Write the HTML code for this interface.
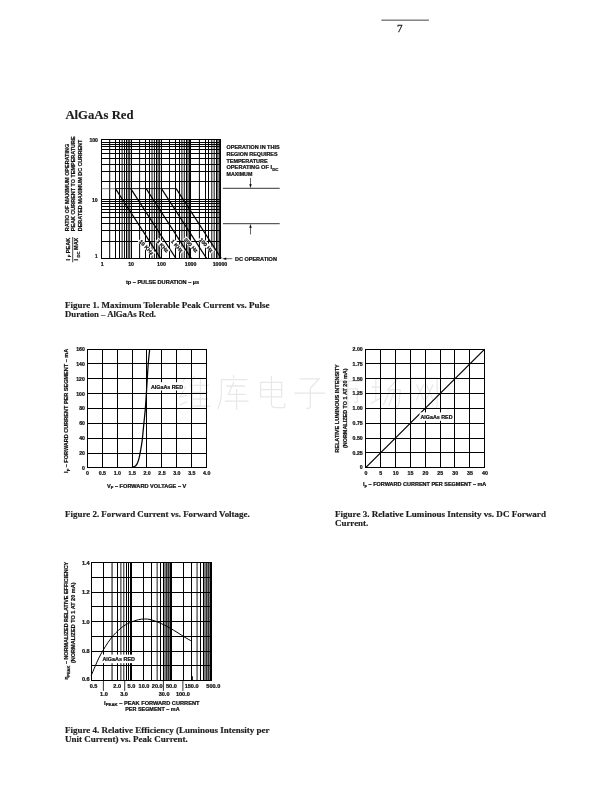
<!DOCTYPE html>
<html><head><meta charset="utf-8"><title>AlGaAs Red</title>
<style>
html,body{margin:0;padding:0;background:#fff;}
body{width:612px;height:792px;position:relative;overflow:hidden;}
svg{position:absolute;left:0;top:0;display:block;will-change:transform;filter:grayscale(1);}
.s{font-family:"Liberation Sans",sans-serif;font-weight:bold;fill:#111;stroke:#111;stroke-width:0.22px;}
.c{font-family:"Liberation Serif",serif;font-weight:bold;fill:#1c1c1c;stroke:#1c1c1c;stroke-width:0.15px;}
.n{font-family:"Liberation Serif",serif;fill:#222;stroke:#222;stroke-width:0.3px;}
</style></head><body>
<svg width="612" height="792" viewBox="0 0 612 792">
<line x1="381.4" y1="20.15" x2="428.9" y2="20.15" stroke="#222" stroke-width="0.85"/>
<path transform="translate(178 374.5) scale(0.34 0.36)" d="M20 10 L8 35 L22 35 L6 62 L26 58 M5 85 L28 75 M48 5 L36 35 M42 25 L42 95 M42 30 L92 30 M66 10 L66 88 M42 50 L88 50 M42 68 L88 68 M42 88 L95 88" fill="none" stroke="#e8e8e8" stroke-width="3.6"/>
<path transform="translate(216.2 374.5) scale(0.34 0.36)" d="M50 2 L52 10 M15 14 L92 14 M15 14 L15 55 Q14 80 4 96 M30 32 L85 32 M52 20 L36 55 L86 55 M25 74 L95 74 M60 40 L60 98" fill="none" stroke="#e8e8e8" stroke-width="3.6"/>
<path transform="translate(254.4 374.5) scale(0.34 0.36)" d="M18 22 L80 22 L80 62 L18 62 Z M18 42 L80 42 M50 4 L50 82 Q50 92 62 92 L88 92 L90 80" fill="none" stroke="#e8e8e8" stroke-width="3.6"/>
<path transform="translate(292.6 374.5) scale(0.34 0.36)" d="M20 12 L78 12 L52 38 M52 38 L52 88 Q52 96 40 94 M5 52 L95 52" fill="none" stroke="#e8e8e8" stroke-width="3.6"/>
<path transform="translate(330.8 374.5) scale(0.34 0.36)" d="M50 2 L50 12 M8 18 L92 18 M22 40 L22 80 M22 40 L78 40 L78 75 L70 78 M50 18 L50 98" fill="none" stroke="#e8e8e8" stroke-width="3.6"/>
<path transform="translate(369 374.5) scale(0.34 0.36)" d="M8 35 L32 35 M20 12 L20 72 M5 80 L34 66 M42 12 L85 12 L55 42 L92 42 L88 80 Q86 92 76 90 M62 42 L42 85 M76 42 L58 88" fill="none" stroke="#e8e8e8" stroke-width="3.6"/>
<path transform="translate(407.2 374.5) scale(0.34 0.36)" d="M12 10 L12 96 M12 10 L88 10 L88 88 Q88 96 78 94 M28 28 L48 70 M48 28 L26 72 M56 28 L76 70 M76 28 L54 72" fill="none" stroke="#e8e8e8" stroke-width="3.6"/>
<path d="M101.5 139V259" stroke="#000" stroke-width="1.0"/>
<line x1="109.7" y1="139.6" x2="109.7" y2="258.4" stroke="#000" stroke-width="1.0" />
<path d="M115.5 139V259" stroke="#000" stroke-width="1.0"/>
<path d="M119.5 139V259" stroke="#000" stroke-width="1.0"/>
<line x1="122.1" y1="139.6" x2="122.1" y2="258.4" stroke="#000" stroke-width="0.95" />
<line x1="124.47" y1="139.6" x2="124.47" y2="258.4" stroke="#000" stroke-width="0.95" />
<path d="M126.5 139V259" stroke="#000" stroke-width="1.0"/>
<line x1="128.2" y1="139.6" x2="128.2" y2="258.4" stroke="#000" stroke-width="0.95" />
<line x1="129.73" y1="139.6" x2="129.73" y2="258.4" stroke="#000" stroke-width="0.95" />
<path d="M131.5 139V259" stroke="#000" stroke-width="1.0"/>
<line x1="139.6" y1="139.6" x2="139.6" y2="258.4" stroke="#000" stroke-width="1.0" />
<path d="M145.5 139V259" stroke="#000" stroke-width="1.0"/>
<path d="M149.5 139V259" stroke="#000" stroke-width="1.0"/>
<line x1="152" y1="139.6" x2="152" y2="258.4" stroke="#000" stroke-width="0.95" />
<line x1="154.37" y1="139.6" x2="154.37" y2="258.4" stroke="#000" stroke-width="0.95" />
<path d="M156.5 139V259" stroke="#000" stroke-width="1.0"/>
<line x1="158.1" y1="139.6" x2="158.1" y2="258.4" stroke="#000" stroke-width="0.95" />
<line x1="159.63" y1="139.6" x2="159.63" y2="258.4" stroke="#000" stroke-width="0.95" />
<path d="M161.5 139V259" stroke="#000" stroke-width="1.0"/>
<line x1="169.5" y1="139.6" x2="169.5" y2="258.4" stroke="#000" stroke-width="1.0" />
<path d="M175.5 139V259" stroke="#000" stroke-width="1.0"/>
<path d="M179.5 139V259" stroke="#000" stroke-width="1.0"/>
<line x1="181.9" y1="139.6" x2="181.9" y2="258.4" stroke="#000" stroke-width="0.95" />
<line x1="184.27" y1="139.6" x2="184.27" y2="258.4" stroke="#000" stroke-width="0.95" />
<path d="M186.5 139V259" stroke="#000" stroke-width="1.0"/>
<line x1="188" y1="139.6" x2="188" y2="258.4" stroke="#000" stroke-width="0.95" />
<line x1="189.53" y1="139.6" x2="189.53" y2="258.4" stroke="#000" stroke-width="0.95" />
<path d="M190.5 139V259" stroke="#000" stroke-width="1.0"/>
<line x1="199.4" y1="139.6" x2="199.4" y2="258.4" stroke="#000" stroke-width="1.0" />
<path d="M205.5 139V259" stroke="#000" stroke-width="1.0"/>
<path d="M208.5 139V259" stroke="#000" stroke-width="1.0"/>
<line x1="211.8" y1="139.6" x2="211.8" y2="258.4" stroke="#000" stroke-width="0.95" />
<line x1="214.17" y1="139.6" x2="214.17" y2="258.4" stroke="#000" stroke-width="0.95" />
<path d="M216.5 139V259" stroke="#000" stroke-width="1.0"/>
<line x1="217.9" y1="139.6" x2="217.9" y2="258.4" stroke="#000" stroke-width="0.95" />
<line x1="219.43" y1="139.6" x2="219.43" y2="258.4" stroke="#000" stroke-width="0.95" />
<path d="M220.5 139V259" stroke="#000" stroke-width="1.0"/>
<path d="M101 258.5H221" stroke="#000" stroke-width="1.0"/>
<path d="M101 201.5H221" stroke="#000" stroke-width="1.0"/>
<path d="M101 203.5H221" stroke="#000" stroke-width="1.0"/>
<path d="M101 206.5H221" stroke="#000" stroke-width="1.0"/>
<path d="M101 209.5H221" stroke="#000" stroke-width="1.0"/>
<path d="M101 212.5H221" stroke="#000" stroke-width="1.0"/>
<path d="M101 217.5H221" stroke="#000" stroke-width="1.0"/>
<path d="M101 223.5H221" stroke="#000" stroke-width="1.0"/>
<path d="M101 230.5H221" stroke="#000" stroke-width="1.0"/>
<path d="M101 241.5H221" stroke="#000" stroke-width="1.0"/>
<path d="M101 199.5H221" stroke="#000" stroke-width="1.0"/>
<path d="M101 142.5H221" stroke="#000" stroke-width="1.0"/>
<path d="M101 144.5H221" stroke="#000" stroke-width="1.0"/>
<path d="M101 146.5H221" stroke="#000" stroke-width="1.0"/>
<path d="M101 149.5H221" stroke="#000" stroke-width="1.0"/>
<path d="M101 153.5H221" stroke="#000" stroke-width="1.0"/>
<path d="M101 158.5H221" stroke="#000" stroke-width="1.0"/>
<path d="M101 164.5H221" stroke="#000" stroke-width="1.0"/>
<path d="M101 171.5H221" stroke="#000" stroke-width="1.0"/>
<path d="M101 181.5H221" stroke="#000" stroke-width="1.0"/>
<path d="M101 139.5H221" stroke="#000" stroke-width="1.0"/>
<line x1="101.2" y1="188.7" x2="115.3" y2="188.7" stroke="#555" stroke-width="0.7" />
<line x1="115.3" y1="188.6" x2="176" y2="188.6" stroke="#000" stroke-width="0.9" />
<line x1="115.3" y1="188.4" x2="160.6" y2="258.4" stroke="#000" stroke-width="1.2" />
<line x1="130.6" y1="188.4" x2="175.9" y2="258.4" stroke="#000" stroke-width="1.2" />
<line x1="146" y1="188.4" x2="191.3" y2="258.4" stroke="#000" stroke-width="1.2" />
<line x1="161.3" y1="188.4" x2="206.6" y2="258.4" stroke="#000" stroke-width="1.2" />
<line x1="176" y1="188.4" x2="221.3" y2="258.4" stroke="#000" stroke-width="1.2" />
<g transform="rotate(47 146.4 247.2)"><rect x="136.33" y="244.4" width="20.14" height="5.2" fill="#fff"/><text class="s" transform="translate(137.13 249) scale(1.09 1)" font-size="5.1">10 KHz</text></g>
<g transform="rotate(47 162.5 246)"><rect x="153.98" y="243.2" width="17.04" height="5.2" fill="#fff"/><text class="s" transform="translate(154.78 247.8) scale(1.09 1)" font-size="5.1">3 KHz</text></g>
<g transform="rotate(47 177 246)"><rect x="168.48" y="243.2" width="17.04" height="5.2" fill="#fff"/><text class="s" transform="translate(169.28 247.8) scale(1.09 1)" font-size="5.1">1 KHz</text></g>
<g transform="rotate(47 190.9 245.2)"><rect x="181.29" y="242.4" width="19.21" height="5.2" fill="#fff"/><text class="s" transform="translate(182.09 247) scale(1.09 1)" font-size="5.1">300 Hz</text></g>
<g transform="rotate(47 206.2 245.2)"><rect x="196.59" y="242.4" width="19.21" height="5.2" fill="#fff"/><text class="s" transform="translate(197.39 247) scale(1.09 1)" font-size="5.1">100 Hz</text></g>
<g transform="translate(89.39 141.5) scale(1.0000 1)"><text class="s" x="0" font-size="5.1">100</text></g>
<g transform="translate(91.93 201.5) scale(1.0000 1)"><text class="s" x="0" font-size="5.1">10</text></g>
<g transform="translate(95.05 258.1) scale(0.9000 1)"><text class="s" x="0" font-size="5.1">1</text></g>
<g transform="translate(100.74 265.7) scale(1.0300 1)"><text class="s" x="0" font-size="5.1">1</text></g>
<g transform="translate(128.18 265.7) scale(1.0300 1)"><text class="s" x="0" font-size="5.1">10</text></g>
<g transform="translate(157.12 265.7) scale(1.0300 1)"><text class="s" x="0" font-size="5.1">100</text></g>
<g transform="translate(184.76 265.7) scale(1.0300 1)"><text class="s" x="0" font-size="5.1">1000</text></g>
<g transform="translate(212.7 265.7) scale(1.0300 1)"><text class="s" x="0" font-size="5.1">10000</text></g>
<g transform="translate(125.9 283.7) scale(1.0989 1)"><text class="s" x="0" font-size="5.1">tp – PULSE DURATION – µs</text></g>
<g transform="rotate(-90 69.3 231.2) translate(69.3 231.2) scale(0.9943 1)"><text class="s" x="0" font-size="5.5">RATIO OF MAXIMUM OPERATING</text></g>
<g transform="rotate(-90 75.3 231.2) translate(75.3 231.2) scale(0.9901 1)"><text class="s" x="0" font-size="5.5">PEAK CURRENT TO TEMPERATURE</text></g>
<g transform="rotate(-90 82.3 231.2) translate(82.3 231.2) scale(0.9894 1)"><text class="s" x="0" font-size="5.5">DERATED MAXIMUM DC CURRENT</text></g>
<g transform="rotate(-90 69.7 260.4) translate(69.7 260.4) scale(1.0864 1)"><text class="s" x="0" font-size="5.1">I</text><text class="s" x="2.83" y="1.3" font-size="3.9">F</text><text class="s" x="6.63" font-size="5.1">PEAK</text></g>
<g transform="rotate(-90 78.4 260.4) translate(78.4 260.4) scale(1.0652 1)"><text class="s" x="0" font-size="5.1">I</text><text class="s" x="2.83" y="1.3" font-size="3.9">DC</text><text class="s" x="9.88" font-size="5.1">MAX</text></g>
<line x1="72.7" y1="237" x2="72.7" y2="262.3" stroke="#333" stroke-width="0.9" />
<g transform="translate(226.5 149.1) scale(1.0749 1)"><text class="s" x="0" font-size="5.1">OPERATION IN THIS</text></g>
<g transform="translate(226.5 156) scale(1.0607 1)"><text class="s" x="0" font-size="5.1">REGION REQUIRES</text></g>
<g transform="translate(226.5 162.8) scale(1.0718 1)"><text class="s" x="0" font-size="5.1">TEMPERATURE</text></g>
<g transform="translate(226.5 168.9) scale(1.1065 1)"><text class="s" x="0" font-size="5.1">OPERATING OF I</text><text class="s" x="41.27" y="1.7" font-size="3.9">DC</text></g>
<g transform="translate(226.5 175.6) scale(1.0389 1)"><text class="s" x="0" font-size="5.1">MAXIMUM</text></g>
<line x1="222.9" y1="188.3" x2="279.7" y2="188.3" stroke="#000" stroke-width="0.8" />
<line x1="222.9" y1="223.7" x2="279.7" y2="223.7" stroke="#000" stroke-width="0.8" />
<line x1="250.5" y1="178" x2="250.5" y2="186" stroke="#000" stroke-width="0.6" />
<path d="M249.5 184.3 L250.5 187.8 L251.5 184.3 Z" stroke="#000" stroke-width="0.2" fill="#000" stroke-linejoin="round"/>
<line x1="250.5" y1="226" x2="250.5" y2="234.5" stroke="#000" stroke-width="0.6" />
<path d="M249.5 227.7 L250.5 224.2 L251.5 227.7 Z" stroke="#000" stroke-width="0.2" fill="#000" stroke-linejoin="round"/>
<line x1="224" y1="258.7" x2="232.3" y2="258.7" stroke="#000" stroke-width="0.6" />
<path d="M226.2 257.7 L222.6 258.7 L226.2 259.7 Z" stroke="#000" stroke-width="0.2" fill="#000" stroke-linejoin="round"/>
<g transform="translate(234.9 260.8) scale(1.0872 1)"><text class="s" x="0" font-size="5.1">DC OPERATION</text></g>
<path d="M87.5 349V468" stroke="#000" stroke-width="1.0"/>
<path d="M87 349.5H207" stroke="#000" stroke-width="1.0"/>
<path d="M102.5 349V468" stroke="#000" stroke-width="1.0"/>
<path d="M87 363.5H207" stroke="#000" stroke-width="1.0"/>
<path d="M117.5 349V468" stroke="#000" stroke-width="1.0"/>
<path d="M87 378.5H207" stroke="#000" stroke-width="1.0"/>
<path d="M132.5 349V468" stroke="#000" stroke-width="1.0"/>
<path d="M87 393.5H207" stroke="#000" stroke-width="1.0"/>
<path d="M146.5 349V468" stroke="#000" stroke-width="1.0"/>
<path d="M87 408.5H207" stroke="#000" stroke-width="1.0"/>
<path d="M161.5 349V468" stroke="#000" stroke-width="1.0"/>
<path d="M87 423.5H207" stroke="#000" stroke-width="1.0"/>
<path d="M176.5 349V468" stroke="#000" stroke-width="1.0"/>
<path d="M87 438.5H207" stroke="#000" stroke-width="1.0"/>
<path d="M191.5 349V468" stroke="#000" stroke-width="1.0"/>
<path d="M87 453.5H207" stroke="#000" stroke-width="1.0"/>
<path d="M206.5 349V468" stroke="#000" stroke-width="1.0"/>
<path d="M87 467.5H207" stroke="#000" stroke-width="1.0"/>
<g transform="translate(81.96 469.75) scale(1.0000 1)"><text class="s" x="0" font-size="5.1">0</text></g>
<g transform="translate(86.04 474.8) scale(1.0300 1)"><text class="s" x="0" font-size="5.1">0</text></g>
<g transform="translate(79.13 454.91) scale(1.0000 1)"><text class="s" x="0" font-size="5.1">20</text></g>
<g transform="translate(98.75 474.8) scale(1.0300 1)"><text class="s" x="0" font-size="5.1">0.5</text></g>
<g transform="translate(79.13 440.07) scale(1.0000 1)"><text class="s" x="0" font-size="5.1">40</text></g>
<g transform="translate(113.65 474.8) scale(1.0300 1)"><text class="s" x="0" font-size="5.1">1.0</text></g>
<g transform="translate(79.13 425.24) scale(1.0000 1)"><text class="s" x="0" font-size="5.1">60</text></g>
<g transform="translate(128.55 474.8) scale(1.0300 1)"><text class="s" x="0" font-size="5.1">1.5</text></g>
<g transform="translate(79.13 410.4) scale(1.0000 1)"><text class="s" x="0" font-size="5.1">80</text></g>
<g transform="translate(143.45 474.8) scale(1.0300 1)"><text class="s" x="0" font-size="5.1">2.0</text></g>
<g transform="translate(76.29 395.56) scale(1.0000 1)"><text class="s" x="0" font-size="5.1">100</text></g>
<g transform="translate(158.35 474.8) scale(1.0300 1)"><text class="s" x="0" font-size="5.1">2.5</text></g>
<g transform="translate(76.29 380.72) scale(1.0000 1)"><text class="s" x="0" font-size="5.1">120</text></g>
<g transform="translate(173.25 474.8) scale(1.0300 1)"><text class="s" x="0" font-size="5.1">3.0</text></g>
<g transform="translate(76.29 365.89) scale(1.0000 1)"><text class="s" x="0" font-size="5.1">140</text></g>
<g transform="translate(188.15 474.8) scale(1.0300 1)"><text class="s" x="0" font-size="5.1">3.5</text></g>
<g transform="translate(76.29 351.05) scale(1.0000 1)"><text class="s" x="0" font-size="5.1">160</text></g>
<g transform="translate(203.05 474.8) scale(1.0300 1)"><text class="s" x="0" font-size="5.1">4.0</text></g>
<g transform="translate(107 487.5) scale(1.1014 1)"><text class="s" x="0" font-size="5.1">V</text><text class="s" x="3.4" y="1.3" font-size="3.9">F</text><text class="s" x="7.2" font-size="5.1">– FORWARD VOLTAGE – V</text></g>
<g transform="rotate(-90 68.3 472.9) translate(68.3 472.9) scale(1.0864 1)"><text class="s" x="0" font-size="5.1">I</text><text class="s" x="1.42" y="1.3" font-size="3.9">F</text><text class="s" x="5.22" font-size="5.1">– FORWARD CURRENT PER SEGMENT – mA</text></g>
<path d="M131.6 467.6 C132.07 467.43 133.53 467.13 134.4 466.6 C135.27 466.07 136.05 465.7 136.8 464.4 C137.55 463.1 138.28 461.07 138.9 458.8 C139.52 456.53 139.97 453.73 140.5 450.8 C141.03 447.87 141.57 445.48 142.1 441.2 C142.63 436.92 143.17 430.45 143.7 425.1 C144.23 419.75 144.85 414.43 145.3 409.1 C145.75 403.77 145.92 400.58 146.4 393.1 C146.88 385.62 147.65 371.52 148.2 364.2 C148.75 356.88 149.45 351.7 149.7 349.2" stroke="#000" stroke-width="1.25" fill="none" stroke-linejoin="round"/>
<rect x="149.6" y="382.2" width="34.8" height="8.3" fill="#fff"/>
<g transform="translate(150.9 389) scale(1.0520 1)"><text class="s" x="0" font-size="5.1">AlGaAs RED</text></g>
<path d="M365.5 349V468" stroke="#000" stroke-width="1.0"/>
<path d="M365 349.5H485" stroke="#000" stroke-width="1.0"/>
<path d="M380.5 349V468" stroke="#000" stroke-width="1.0"/>
<path d="M365 363.5H485" stroke="#000" stroke-width="1.0"/>
<path d="M395.5 349V468" stroke="#000" stroke-width="1.0"/>
<path d="M365 378.5H485" stroke="#000" stroke-width="1.0"/>
<path d="M410.5 349V468" stroke="#000" stroke-width="1.0"/>
<path d="M365 393.5H485" stroke="#000" stroke-width="1.0"/>
<path d="M425.5 349V468" stroke="#000" stroke-width="1.0"/>
<path d="M365 408.5H485" stroke="#000" stroke-width="1.0"/>
<path d="M440.5 349V468" stroke="#000" stroke-width="1.0"/>
<path d="M365 423.5H485" stroke="#000" stroke-width="1.0"/>
<path d="M454.5 349V468" stroke="#000" stroke-width="1.0"/>
<path d="M365 438.5H485" stroke="#000" stroke-width="1.0"/>
<path d="M469.5 349V468" stroke="#000" stroke-width="1.0"/>
<path d="M365 452.5H485" stroke="#000" stroke-width="1.0"/>
<path d="M484.5 349V468" stroke="#000" stroke-width="1.0"/>
<path d="M365 467.5H485" stroke="#000" stroke-width="1.0"/>
<g transform="translate(359.81 468.63) scale(1.0200 1)"><text class="s" x="0" font-size="5.1">0</text></g>
<g transform="translate(364.44 474.8) scale(1.0300 1)"><text class="s" x="0" font-size="5.1">0</text></g>
<g transform="translate(352.58 454.72) scale(1.0200 1)"><text class="s" x="0" font-size="5.1">0.25</text></g>
<g transform="translate(379.31 474.8) scale(1.0300 1)"><text class="s" x="0" font-size="5.1">5</text></g>
<g transform="translate(352.58 439.9) scale(1.0200 1)"><text class="s" x="0" font-size="5.1">0.50</text></g>
<g transform="translate(392.73 474.8) scale(1.0300 1)"><text class="s" x="0" font-size="5.1">10</text></g>
<g transform="translate(352.58 425.09) scale(1.0200 1)"><text class="s" x="0" font-size="5.1">0.75</text></g>
<g transform="translate(407.6 474.8) scale(1.0300 1)"><text class="s" x="0" font-size="5.1">15</text></g>
<g transform="translate(352.58 410.28) scale(1.0200 1)"><text class="s" x="0" font-size="5.1">1.00</text></g>
<g transform="translate(422.48 474.8) scale(1.0300 1)"><text class="s" x="0" font-size="5.1">20</text></g>
<g transform="translate(352.58 395.47) scale(1.0200 1)"><text class="s" x="0" font-size="5.1">1.25</text></g>
<g transform="translate(437.35 474.8) scale(1.0300 1)"><text class="s" x="0" font-size="5.1">25</text></g>
<g transform="translate(352.58 380.65) scale(1.0200 1)"><text class="s" x="0" font-size="5.1">1.50</text></g>
<g transform="translate(452.23 474.8) scale(1.0300 1)"><text class="s" x="0" font-size="5.1">30</text></g>
<g transform="translate(352.58 365.84) scale(1.0200 1)"><text class="s" x="0" font-size="5.1">1.75</text></g>
<g transform="translate(467.1 474.8) scale(1.0300 1)"><text class="s" x="0" font-size="5.1">35</text></g>
<g transform="translate(352.58 351.03) scale(1.0200 1)"><text class="s" x="0" font-size="5.1">2.00</text></g>
<g transform="translate(481.98 474.8) scale(1.0300 1)"><text class="s" x="0" font-size="5.1">40</text></g>
<g transform="translate(363 486.4) scale(1.0786 1)"><text class="s" x="0" font-size="5.1">I</text><text class="s" x="1.42" y="1.3" font-size="3.9">F</text><text class="s" x="5.22" font-size="5.1">– FORWARD CURRENT PER SEGMENT – mA</text></g>
<g transform="rotate(-90 338.7 408.3) translate(294.3 408.3) scale(1.0483 1)"><text class="s" x="0" font-size="5.3">RELATIVE LUMINOUS INTENSITY</text></g>
<g transform="rotate(-90 346.6 408.2) translate(306.7 408.2) scale(1.0317 1)"><text class="s" x="0" font-size="5.3">(NORMALIZED TO 1 AT 20 mA)</text></g>
<line x1="365.7" y1="467.63" x2="484.7" y2="349.13" stroke="#000" stroke-width="1.25" />
<rect x="419.6" y="412.4" width="34.2" height="8.4" fill="#fff"/>
<g transform="translate(420.4 418.6) scale(1.0520 1)"><text class="s" x="0" font-size="5.1">AlGaAs RED</text></g>
<path d="M91.5 562V681" stroke="#000" stroke-width="1.0"/>
<path d="M103.5 562V681" stroke="#000" stroke-width="1.0"/>
<line x1="112.05" y1="562.7" x2="112.05" y2="680.7" stroke="#000" stroke-width="1.0" />
<path d="M117.5 562V681" stroke="#000" stroke-width="1.0"/>
<line x1="120.9" y1="562.7" x2="120.9" y2="680.7" stroke="#000" stroke-width="0.9" />
<line x1="123.8" y1="562.7" x2="123.8" y2="680.7" stroke="#000" stroke-width="0.9" />
<path d="M126.5 562V681" stroke="#000" stroke-width="1.0"/>
<path d="M128.5 562V681" stroke="#000" stroke-width="1.0"/>
<path d="M130.5 562V681" stroke="#000" stroke-width="1.0"/>
<path d="M131.5 562V681" stroke="#000" stroke-width="1.0"/>
<path d="M143.5 562V681" stroke="#000" stroke-width="1.0"/>
<path d="M151.5 562V681" stroke="#000" stroke-width="1.0"/>
<line x1="157.13" y1="562.7" x2="157.13" y2="680.7" stroke="#000" stroke-width="0.9" />
<path d="M160.5 562V681" stroke="#000" stroke-width="1.0"/>
<path d="M163.5 562V681" stroke="#000" stroke-width="1.0"/>
<rect x="164.13" y="562.7" width="6.3" height="118" fill="#7a7a7a"/>
<path d="M166.5 562V681" stroke="#000" stroke-width="0.6"/>
<path d="M168.5 562V681" stroke="#000" stroke-width="0.6"/>
<path d="M170.5 562V681" stroke="#000" stroke-width="1.0"/>
<path d="M171.5 562V681" stroke="#000" stroke-width="1.0"/>
<path d="M183.5 562V681" stroke="#000" stroke-width="1.0"/>
<path d="M191.5 562V681" stroke="#000" stroke-width="1.0"/>
<line x1="197.07" y1="562.7" x2="197.07" y2="680.7" stroke="#000" stroke-width="0.9" />
<path d="M200.5 562V681" stroke="#000" stroke-width="1.0"/>
<path d="M203.5 562V681" stroke="#000" stroke-width="1.0"/>
<rect x="204.07" y="562.7" width="6.3" height="118" fill="#7a7a7a"/>
<path d="M206.5 562V681" stroke="#000" stroke-width="0.6"/>
<path d="M208.5 562V681" stroke="#000" stroke-width="0.6"/>
<path d="M210.5 562V681" stroke="#000" stroke-width="1.0"/>
<path d="M211.5 562V681" stroke="#000" stroke-width="1.0"/>
<path d="M91 562.5H212" stroke="#000" stroke-width="1.0"/>
<path d="M91 577.5H212" stroke="#000" stroke-width="1.0"/>
<path d="M91 592.5H212" stroke="#000" stroke-width="1.0"/>
<path d="M91 606.5H212" stroke="#000" stroke-width="1.0"/>
<path d="M91 621.5H212" stroke="#000" stroke-width="1.0"/>
<path d="M91 636.5H212" stroke="#000" stroke-width="1.0"/>
<path d="M91 651.5H212" stroke="#000" stroke-width="1.0"/>
<path d="M91 665.5H212" stroke="#000" stroke-width="1.0"/>
<path d="M91 680.5H212" stroke="#000" stroke-width="1.0"/>
<g transform="translate(81.97 681.3) scale(1.0900 1)"><text class="s" x="0" font-size="5.1">0.6</text></g>
<g transform="translate(81.97 653.1) scale(1.0900 1)"><text class="s" x="0" font-size="5.1">0.8</text></g>
<g transform="translate(81.97 623.6) scale(1.0900 1)"><text class="s" x="0" font-size="5.1">1.0</text></g>
<g transform="translate(81.97 594.1) scale(1.0900 1)"><text class="s" x="0" font-size="5.1">1.2</text></g>
<g transform="translate(81.97 564.6) scale(1.0900 1)"><text class="s" x="0" font-size="5.1">1.4</text></g>
<g transform="translate(89.74 688.1) scale(1.0900 1)"><text class="s" x="0" font-size="5.1">0.5</text></g>
<g transform="translate(113.34 688.1) scale(1.0900 1)"><text class="s" x="0" font-size="5.1">2.0</text></g>
<g transform="translate(127.54 688.1) scale(1.0900 1)"><text class="s" x="0" font-size="5.1">5.0</text></g>
<g transform="translate(138.59 688.1) scale(1.0900 1)"><text class="s" x="0" font-size="5.1">10.0</text></g>
<g transform="translate(151.79 688.1) scale(1.0900 1)"><text class="s" x="0" font-size="5.1">20.0</text></g>
<g transform="translate(165.99 688.1) scale(1.0900 1)"><text class="s" x="0" font-size="5.1">50.0</text></g>
<g transform="translate(184.64 688.1) scale(1.0900 1)"><text class="s" x="0" font-size="5.1">150.0</text></g>
<g transform="translate(206.34 688.1) scale(1.0900 1)"><text class="s" x="0" font-size="5.1">500.0</text></g>
<g transform="translate(100.04 695.9) scale(1.0900 1)"><text class="s" x="0" font-size="5.1">1.0</text></g>
<g transform="translate(120.14 695.9) scale(1.0900 1)"><text class="s" x="0" font-size="5.1">3.0</text></g>
<g transform="translate(158.69 695.9) scale(1.0900 1)"><text class="s" x="0" font-size="5.1">30.0</text></g>
<g transform="translate(175.94 695.9) scale(1.0900 1)"><text class="s" x="0" font-size="5.1">100.0</text></g>
<line x1="103.4" y1="680.7" x2="103.4" y2="690.9" stroke="#000" stroke-width="0.8" />
<line x1="124.7" y1="680.7" x2="124.7" y2="690.9" stroke="#000" stroke-width="0.8" />
<line x1="163.4" y1="680.7" x2="163.4" y2="690.9" stroke="#000" stroke-width="0.8" />
<line x1="182.9" y1="680.7" x2="182.9" y2="690.9" stroke="#000" stroke-width="0.8" />
<line x1="192.3" y1="676.3" x2="192.3" y2="680.7" stroke="#000" stroke-width="1.1" />
<g transform="translate(104.1 705.1) scale(1.1090 1)"><text class="s" x="0" font-size="5.1">I</text><text class="s" x="1.42" y="1.3" font-size="3.9">PEAK</text><text class="s" x="13.67" font-size="5.1">– PEAK FORWARD CURRENT</text></g>
<g transform="translate(125.2 710.9) scale(1.0684 1)"><text class="s" x="0" font-size="5.1">PER SEGMENT – mA</text></g>
<g transform="rotate(-90 68.4 679.6) translate(68.4 679.6) scale(1.0240 1)"><text class="s" x="0" font-size="4.6">η</text><text class="s" x="2.81" y="1.2" font-size="3.9">PEAK</text><text class="s" x="15.12" font-size="5.3">– NORMALIZED RELATIVE EFFICIENCY</text></g>
<g transform="rotate(-90 74.8 622.7) translate(34.5 622.7) scale(1.0421 1)"><text class="s" x="0" font-size="5.3">(NORMALIZED TO 1 AT 20 mA)</text></g>
<path d="M91.2 675.5 C91.87 673.95 93.93 669.1 95.2 666.2 C96.47 663.3 97.45 660.8 98.8 658.1 C100.15 655.4 101.8 652.55 103.3 650 C104.8 647.45 106.15 645.2 107.8 642.8 C109.45 640.4 111.4 637.7 113.2 635.6 C115 633.5 116.8 631.85 118.6 630.2 C120.4 628.55 121.9 627.05 124 625.7 C126.1 624.35 128.8 623.1 131.2 622.1 C133.6 621.1 136.15 620.22 138.4 619.7 C140.65 619.18 142.6 619 144.7 619 C146.8 619 148.45 619.03 151 619.7 C153.55 620.37 157 621.7 160 623 C163 624.3 166 625.85 169 627.5 C172 629.15 175.32 631.25 178 632.9 C180.68 634.55 182.87 636.05 185.1 637.4 C187.33 638.75 190.35 640.4 191.4 641" stroke="#000" stroke-width="1.0" fill="none" stroke-linejoin="round"/>
<rect x="101.4" y="654.6" width="35" height="8.6" fill="#fff"/>
<g transform="translate(102.4 660.8) scale(1.0683 1)"><text class="s" x="0" font-size="5.1">AlGaAs RED</text></g>
<text class="c" transform="translate(65.4 119.4) scale(0.9785 1)" font-size="13.0">AlGaAs Red</text>
<text class="c" transform="translate(65 307.5) scale(1.2156 1)" font-size="7.4">Figure 1. Maximum Tolerable Peak Current vs. Pulse</text>
<text class="c" transform="translate(65 316.6) scale(1.1799 1)" font-size="7.4">Duration – AlGaAs Red.</text>
<text class="c" transform="translate(65 516.9) scale(1.2103 1)" font-size="7.4">Figure 2. Forward Current vs. Forward Voltage.</text>
<text class="c" transform="translate(335 516.9) scale(1.2256 1)" font-size="7.4">Figure 3. Relative Luminous Intensity vs. DC Forward</text>
<text class="c" transform="translate(335 526) scale(1.2061 1)" font-size="7.4">Current.</text>
<text class="c" transform="translate(65 732.5) scale(1.2170 1)" font-size="7.4">Figure 4. Relative Efficiency (Luminous Intensity per</text>
<text class="c" transform="translate(65 741.7) scale(1.2117 1)" font-size="7.4">Unit Current) vs. Peak Current.</text>
<text class="n" x="397.1" y="32.2" font-size="11">7</text>
</svg>
</body></html>
